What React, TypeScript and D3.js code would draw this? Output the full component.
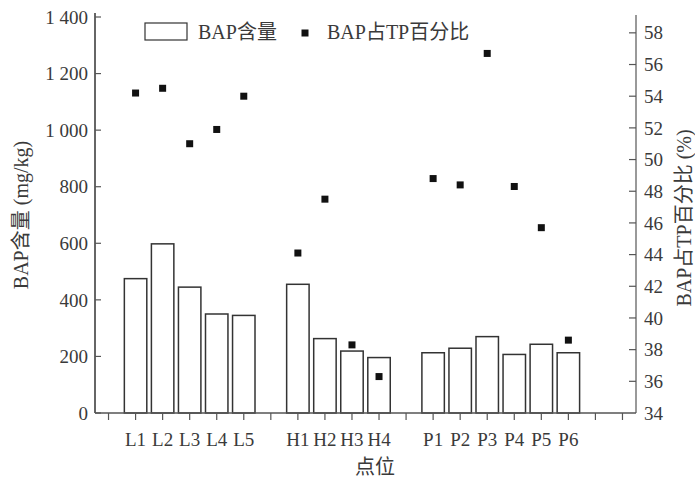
import React from "react";
import * as d3 from "d3";

const slots = ["", "L1", "L2", "L3", "L4", "L5", "", "H1", "H2", "H3", "H4", "", "P1", "P2", "P3", "P4", "P5", "P6", "", ""];
const categories = ["L1", "L2", "L3", "L4", "L5", "H1", "H2", "H3", "H4", "P1", "P2", "P3", "P4", "P5", "P6"];
const bapContent = [475, 598, 445, 350, 345, 455, 263, 219, 196, 213, 229, 270, 207, 243, 213];
const bapPercent = [54.2, 54.5, 51.0, 51.9, 54.0, 44.1, 47.5, 38.3, 36.3, 48.8, 48.4, 56.7, 48.3, 45.7, 38.6];
const leftTicks = [0, 200, 400, 600, 800, 1000, 1200, 1400];
const rightTicks = [34, 36, 38, 40, 42, 44, 46, 48, 50, 52, 54, 56, 58];

const W = 695, H = 479;
const L = 95, R = 636, T = 17, B = 413;
const FONT = "'Liberation Serif', 'Times New Roman', 'Noto Sans CJK SC', serif";
const TXT = "#3a3a3a";

export default function App() {
  const x = d3.scaleBand<number>().domain(d3.range(slots.length)).range([L, R]).padding(0);
  const bw = x.bandwidth();
  const cx = (i: number) => (x(i) as number) + bw / 2;
  const slotOf = (c: string) => slots.indexOf(c);
  const yL = d3.scaleLinear().domain([0, 1400]).range([B, T]);
  const yR = d3.scaleLinear().domain([34, 59]).range([B, T]);
  const fmt = (v: number) => d3.format(",")(v).replace(",", " ");
  const barW = bw * 0.83;
  const ms = 7;

  return (
    <svg width={W} height={H} style={{ position: "absolute", left: 0, top: 0, background: "#fff" }} fontFamily={FONT}>
      <rect width={W} height={H} fill="#fff" />
      {/* bars */}
      {categories.map((c, i) => (
        <rect key={c} x={cx(slotOf(c)) - barW / 2} y={yL(bapContent[i])} width={barW} height={B - yL(bapContent[i])}
          fill="#fff" stroke="#333" strokeWidth={1.5} />
      ))}
      {/* points */}
      {categories.map((c, i) => (
        <rect key={"p" + c} x={cx(slotOf(c)) - ms / 2} y={yR(bapPercent[i]) - ms / 2} width={ms} height={ms} fill="#111" />
      ))}
      {/* axes */}
      <line x1={L} x2={L} y1={T - 4} y2={B} stroke="#666" strokeWidth={2} />
      <line x1={R} x2={R} y1={T - 2} y2={B} stroke="#555" strokeWidth={1.2} />
      <line x1={L} x2={R} y1={B} y2={B} stroke="#555" strokeWidth={1.4} />
      {leftTicks.map(t => (
        <g key={"l" + t}>
          <line x1={L} x2={L + 6} y1={yL(t)} y2={yL(t)} stroke="#555" strokeWidth={1.2} />
          <text x={88} y={yL(t)} dy="0.35em" textAnchor="end" fontSize={19} fill={TXT}>{fmt(t)}</text>
        </g>
      ))}
      {rightTicks.map(t => (
        <g key={"r" + t}>
          {t !== 34 && <line x1={R - 7} x2={R} y1={yR(t)} y2={yR(t)} stroke="#555" strokeWidth={1.2} />}
          <text x={644} y={yR(t)} dy="0.35em" textAnchor="start" fontSize={19} fill={TXT}>{t}</text>
        </g>
      ))}
      {slots.map((s, i) => (
        <g key={"b" + i}>
          <line x1={cx(i)} x2={cx(i)} y1={B} y2={B + 7} stroke="#555" strokeWidth={1.2} />
          {s && <text x={cx(i)} y={446} textAnchor="middle" fontSize={19} fill={TXT}>{s}</text>}
        </g>
      ))}
      {/* axis titles */}
      <text x={375} y={474} textAnchor="middle" fontSize={20} fill={TXT}>点位</text>
      <text transform={`translate(28,215) rotate(-90)`} textAnchor="middle" fontSize={20} fill={TXT}>BAP含量 (mg/kg)</text>
      <text transform={`translate(691,218) rotate(-90)`} textAnchor="middle" fontSize={20} fill={TXT}>BAP占TP百分比 (%)</text>
      {/* legend */}
      <rect x={145} y={23} width={42} height={17} fill="#fff" stroke="#333" strokeWidth={1.2} />
      <text x={198} y={39} fontSize={20} fill={TXT}>BAP含量</text>
      <rect x={305 - ms / 2} y={33 - ms / 2} width={ms} height={ms} fill="#111" />
      <text x={327} y={39} fontSize={20} fill={TXT}>BAP占TP百分比</text>
    </svg>
  );
}
